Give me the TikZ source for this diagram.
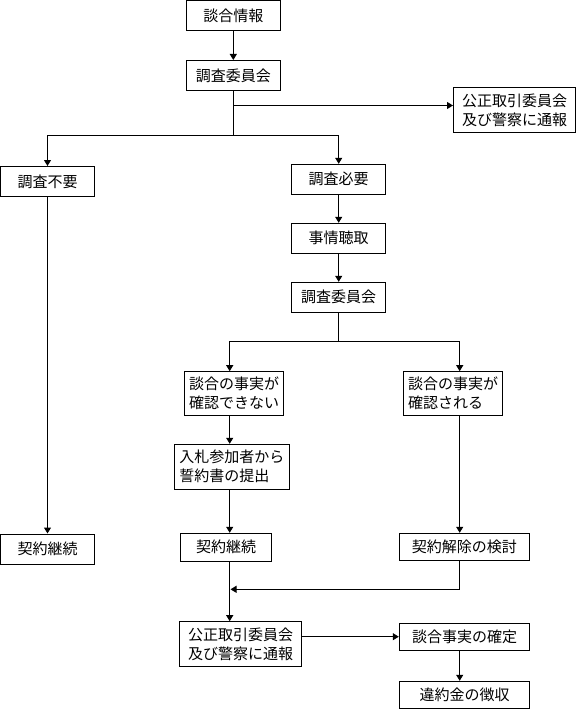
\documentclass[tikz,border=0pt]{standalone}
\usepackage{fontspec}
\setmainfont{Noto Sans CJK JP}
\usetikzlibrary{arrows.meta}
\begin{document}
\begin{tikzpicture}[x=1pt,y=-1pt,
  box/.style={draw,line width=1pt,inner sep=0pt,font=\fontsize{15pt}{19pt}\selectfont,align=left},
  arr/.style={line width=1pt,-{Triangle[length=6pt,width=7pt]}},
  ln/.style={line width=1pt}]
\useasboundingbox (0,0) rectangle (577,709);
\node[box,minimum width=94pt,minimum height=30pt] (joho) at (233.3,15.5) {談合情報};
\node[box,minimum width=94pt,minimum height=30pt] (iin1) at (233.3,75.5) {調査委員会};
\node[box,minimum width=122pt,minimum height=44.5pt] (kotori1) at (514.5,110) {公正取引委員会\\及び警察に通報};
\node[box,minimum width=94pt,minimum height=30pt] (fuyo) at (47.5,181.5) {調査不要};
\node[box,minimum width=94pt,minimum height=30pt] (hitsuyo) at (338.7,179.3) {調査必要};
\node[box,minimum width=94pt,minimum height=30pt] (jijo) at (338.7,238.3) {事情聴取};
\node[box,minimum width=94pt,minimum height=30pt] (iin2) at (338.7,297.3) {調査委員会};
\node[box,minimum width=99.4pt,minimum height=44pt] (dekinai) at (234,393.7) {談合の事実が\\確認できない};
\node[box,minimum width=99.4pt,minimum height=44pt] (sareru) at (453,393.7) {談合の事実が\\確認される};
\node[box,minimum width=115pt,minimum height=45pt] (nyusatsu) at (231.8,466.8) {入札参加者から\\誓約書の提出};
\node[box,minimum width=91.4pt,minimum height=28pt] (keizoku2) at (226,547.3) {契約継続};
\node[box,minimum width=130pt,minimum height=27pt] (kaijo) at (464.3,546.8) {契約解除の検討};
\node[box,minimum width=94pt,minimum height=30pt] (keizoku1) at (47.5,549) {契約継続};
\node[box,minimum width=122pt,minimum height=45pt] (kotori2) at (240.7,644.2) {公正取引委員会\\及び警察に通報};
\node[box,minimum width=130.4pt,minimum height=26.7pt] (kakutei) at (464.5,636.7) {談合事実の確定};
\node[box,minimum width=130pt,minimum height=27pt] (choshu) at (464.7,694.8) {違約金の徴収};
\coordinate (b1) at (233.3,105.5);
\coordinate (b2) at (233.3,135.3);
\coordinate (b3) at (338.7,341);
\coordinate (cL) at (229.7,0);
\coordinate (cR) at (459.7,0);
\coordinate (mL) at (230.5,589.3);
\draw[arr] (joho) -- (iin1);
\draw[ln] (iin1.south) -- (b2);
\draw[arr] (b1) -- (b1 -| kotori1.west);
\draw[arr] (b2) -| (fuyo.north);
\draw[arr] (b2) -| (hitsuyo.north);
\draw[arr] (fuyo) -- (keizoku1);
\draw[arr] (hitsuyo) -- (jijo);
\draw[arr] (jijo) -- (iin2);
\draw[ln] (iin2.south) -- (b3);
\draw[arr] (b3) -| (cL |- dekinai.north);
\draw[arr] (b3) -| (cR |- sareru.north);
\draw[arr] (cL |- dekinai.south) -- (cL |- nyusatsu.north);
\draw[arr] (cL |- nyusatsu.south) -- (cL |- keizoku2.north);
\draw[arr] (cL |- keizoku2.south) -- (cL |- kotori2.north);
\draw[arr] (cR |- sareru.south) -- (cR |- kaijo.north);
\draw[arr] (cR |- kaijo.south) |- (mL);
\draw[arr] (kotori2.east |- kakutei.west) -- (kakutei.west);
\draw[arr] (cR |- kakutei.south) -- (cR |- choshu.north);
\end{tikzpicture}
\end{document}
